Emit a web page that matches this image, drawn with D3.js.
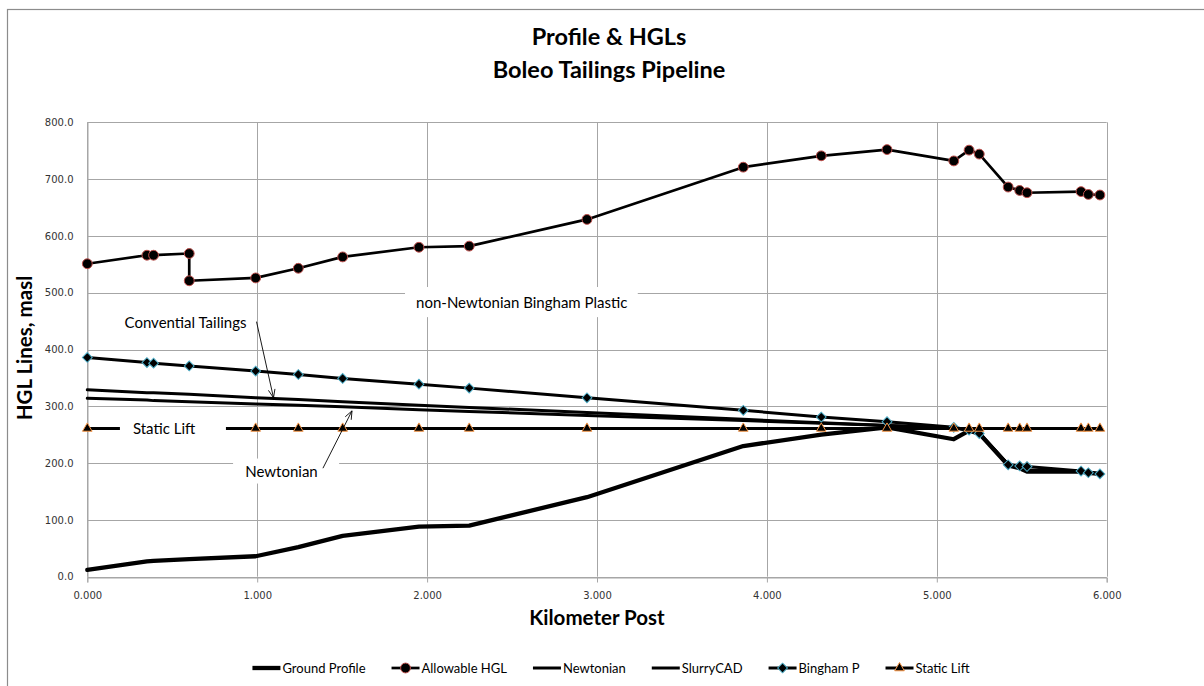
<!DOCTYPE html>
<html>
<head>
<meta charset="utf-8">
<script src="https://cdn.jsdelivr.net/npm/d3@7"></script>
<style>
  body { margin: 0; background: #fff; }
  svg { display: block; }
</style>
</head>
<body>
<svg id="chart" width="1204" height="686"></svg>
<script>
// Pipeline stations (kilometre post) shared by most series
const kmPost = [0.000, 0.351, 0.390, 0.600, 0.991, 1.242, 1.503, 1.952, 2.248, 2.941, 3.861,
                4.320, 4.707, 5.100, 5.190, 5.250, 5.420, 5.488, 5.531, 5.849, 5.892, 5.960];

// Allowable HGL has a double point at KP 0.600 (pressure class change)
const allowKm  = [0.000, 0.351, 0.390, 0.600, 0.600, 0.991, 1.242, 1.503, 1.952, 2.248, 2.941, 3.861,
                  4.320, 4.707, 5.100, 5.190, 5.250, 5.420, 5.488, 5.531, 5.849, 5.892, 5.960];
const allowHGL = [551, 566, 566, 569, 521, 526, 543, 563, 580, 582, 629, 721,
                  741, 752, 732, 751, 744, 686, 680, 676, 678, 673, 672];

const groundProfile = [12, 27, 28, 31, 36, 52, 72, 88, 90, 140, 230,
                       250, 263, 242, 257, 252, 196, 191, 185, 185, 183, 181];
const newtonian     = [314, 311, 310, 308, 304, 302, 299, 294, 291, 284, 275,
                       270, 266, 262, 258, 253, 197, 192, 187, 185, 183, 181];
const slurryCAD     = [329, 324, 324, 321, 315, 312, 308, 302, 298, 289, 277,
                       271, 266, 262, 258, 253, 198, 193, 188, 186, 184, 181];
const binghamP      = [386, 377, 376, 371, 362, 356, 349, 339, 332, 315, 293,
                       281, 273, 263, 258, 252, 197, 195, 194, 186, 183, 181];
const staticLift    = [261, 261, 261, 261, 261, 261, 261, 261, 261, 261, 261,
                       261, 261, 261, 261, 261, 261, 261, 261, 261, 261, 261];

const xTicks = [0, 1, 2, 3, 4, 5, 6];
const yTicks = [0, 100, 200, 300, 400, 500, 600, 700, 800];
const seriesNames = ["Ground Profile", "Allowable HGL", "Newtonian", "SlurryCAD", "Bingham P", "Static Lift"];

const plot = { left: 87.3, right: 1106.7, top: 122.3, bottom: 576.7 };

const svg = d3.select("#chart");
const x = d3.scaleLinear().domain([0, 6]).range([plot.left, plot.right]);
const y = d3.scaleLinear().domain([0, 800]).range([plot.bottom, plot.top]);

const calibri = "Lato, 'Open Sans', sans-serif";
const tickFont = "'DejaVu Sans', Verdana, sans-serif";

// outer chart frame
svg.append("rect")
  .attr("x", 7.5).attr("y", 9.5).attr("width", 1300).attr("height", 800)
  .attr("fill", "#fff").attr("stroke", "#8c8c8c").attr("stroke-width", 1.2);

// title
const title = svg.append("text")
  .attr("text-anchor", "middle")
  .attr("font-family", calibri).attr("font-weight", "bold").attr("font-size", 23.5)
  .attr("fill", "#000");
title.append("tspan").attr("x", 609).attr("y", 45).text("Profile & HGLs");
title.append("tspan").attr("x", 609).attr("y", 78).text("Boleo Tailings Pipeline");

// gridlines
const grid = svg.append("g").attr("stroke", "#a6a6a6").attr("stroke-width", 1);
grid.selectAll("line.h").data(yTicks).join("line")
  .attr("x1", plot.left).attr("x2", plot.right)
  .attr("y1", d => Math.round(y(d)) + 0.5).attr("y2", d => Math.round(y(d)) + 0.5);
grid.selectAll("line.v").data(xTicks).join("line")
  .attr("y1", plot.top).attr("y2", plot.bottom)
  .attr("x1", d => Math.round(x(d)) + 0.5).attr("x2", d => Math.round(x(d)) + 0.5);

// axes
const xAxis = svg.append("g")
  .attr("transform", `translate(0,${Math.round(plot.bottom) + 0.5})`)
  .call(d3.axisBottom(x).tickValues(xTicks).tickFormat(d3.format(".3f")).tickSize(5).tickPadding(9));
xAxis.select(".domain").attr("stroke", "#a6a6a6");
xAxis.selectAll(".tick line").attr("stroke", "#a6a6a6");
xAxis.selectAll("text").attr("font-family", tickFont).attr("font-size", 10).attr("fill", "#333");

const yAxis = svg.append("g")
  .attr("transform", `translate(${Math.round(plot.left) + 0.5},0)`)
  .call(d3.axisLeft(y).tickValues(yTicks).tickFormat(d3.format(".1f")).tickSize(0).tickPadding(14));
yAxis.select(".domain").attr("stroke", "#a6a6a6");
yAxis.selectAll("text").attr("font-family", tickFont).attr("font-size", 10).attr("fill", "#333");

// axis titles
svg.append("text")
  .attr("x", 597).attr("y", 625).attr("text-anchor", "middle")
  .attr("font-family", calibri).attr("font-weight", "bold").attr("font-size", 20.5)
  .text("Kilometer Post");
svg.append("text")
  .attr("transform", "translate(32,348) rotate(-90)").attr("text-anchor", "middle")
  .attr("font-family", calibri).attr("font-weight", "bold").attr("font-size", 20.5)
  .text("HGL Lines, masl");

// series
const line = d3.line().x(d => x(d[0])).y(d => y(d[1]));
const pairs = (xs, ys) => xs.map((v, i) => [v, ys[i]]);

const series = [
  { name: seriesNames[0], pts: pairs(kmPost, groundProfile), width: 4.3, marker: null },
  { name: seriesNames[1], pts: pairs(allowKm, allowHGL), width: 2.7, marker: "circle", stroke: "#c0504d" },
  { name: seriesNames[2], pts: pairs(kmPost, newtonian), width: 3, marker: null },
  { name: seriesNames[3], pts: pairs(kmPost, slurryCAD), width: 3, marker: null },
  { name: seriesNames[4], pts: pairs(kmPost, binghamP), width: 3, marker: "diamond", stroke: "#4bacc6" },
  { name: seriesNames[5], pts: pairs(kmPost, staticLift), width: 3, marker: "triangle", stroke: "#f79646" }
];

// marker shapes: circle, square turned 45 degrees, triangle
const markerPath = m => m === "circle" ? d3.symbol(d3.symbolCircle, 76)()
  : m === "diamond" ? d3.symbol(d3.symbolSquare, 48)()
  : d3.symbol(d3.symbolTriangle, 40)();
const markerRot = m => m === "diamond" ? " rotate(45)" : "";

const gSeries = svg.append("g");
series.forEach(s => {
  const g = gSeries.append("g");
  g.append("path").attr("d", line(s.pts)).attr("fill", "none")
    .attr("stroke", "#000").attr("stroke-width", s.width)
    .attr("stroke-linejoin", "round").attr("stroke-linecap", "round");
  if (s.marker) {
    g.selectAll("path.m").data(s.pts).join("path")
      .attr("transform", d => `translate(${x(d[0])},${y(d[1])})${markerRot(s.marker)}`)
      .attr("d", markerPath(s.marker))
      .attr("fill", "#000").attr("stroke", s.stroke).attr("stroke-width", 1);
  }
});

// annotations: white boxed labels with pointer arrows
const notes = svg.append("g").attr("font-family", calibri).attr("font-size", 15);

function noteBox(km0, km1, v0, v1, label, kmText, vText) {
  notes.append("rect")
    .attr("x", x(km0)).attr("width", x(km1) - x(km0))
    .attr("y", y(v0)).attr("height", y(v1) - y(v0))
    .attr("fill", "#fff");
  notes.append("text").attr("x", x(kmText)).attr("y", y(vText))
    .attr("text-anchor", "middle").attr("dominant-baseline", "central")
    .text(label);
}
noteBox(1.870, 3.240, 510, 457, "non-Newtonian Bingham Plastic", 2.557, 484);
noteBox(0.175, 0.970, 470, 426, "Convential Tailings", 0.578, 449);
noteBox(0.192, 0.816, 283, 239, "Static  Lift", 0.452, 262);
noteBox(0.858, 1.482, 208, 164, "Newtonian", 1.143, 186);

function arrow(km0, v0, km1, v1) {
  const x0 = x(km0), y0 = y(v0), x1 = x(km1), y1 = y(v1);
  const a = Math.atan2(y1 - y0, x1 - x0), L = 9, spread = 0.38;
  notes.append("line").attr("x1", x0).attr("y1", y0).attr("x2", x1).attr("y2", y1)
    .attr("stroke", "#000").attr("stroke-width", 0.9);
  notes.append("path")
    .attr("d", `M${x1 - L * Math.cos(a - spread)},${y1 - L * Math.sin(a - spread)}L${x1},${y1}L${x1 - L * Math.cos(a + spread)},${y1 - L * Math.sin(a + spread)}`)
    .attr("fill", "none").attr("stroke", "#000").attr("stroke-width", 0.9);
}
arrow(0.996, 449, 1.096, 315);
arrow(1.387, 191, 1.558, 292);

// legend, centred under the chart
const legend = svg.append("g").attr("font-family", calibri).attr("font-size", 13);
const items = [];
series.forEach(s => {
  const g = legend.append("g");
  g.append("line").attr("x1", 0).attr("x2", 28).attr("y1", 0).attr("y2", 0)
    .attr("stroke", "#000").attr("stroke-width", s.width);
  if (s.marker) {
    g.append("path").attr("transform", `translate(14,0)${markerRot(s.marker)}`).attr("d", markerPath(s.marker))
      .attr("fill", "#000").attr("stroke", s.stroke).attr("stroke-width", 1);
  }
  const t = g.append("text").attr("x", 30).attr("dominant-baseline", "central").text(s.name);
  items.push({ g, w: 30 + t.node().getComputedTextLength() });
});
const gap = 26;
const total = d3.sum(items, d => d.w) + gap * (items.length - 1);
let cursor = 611 - total / 2;
items.forEach(it => {
  it.g.attr("transform", `translate(${cursor},668)`);
  cursor += it.w + gap;
});
</script>
</body>
</html>
